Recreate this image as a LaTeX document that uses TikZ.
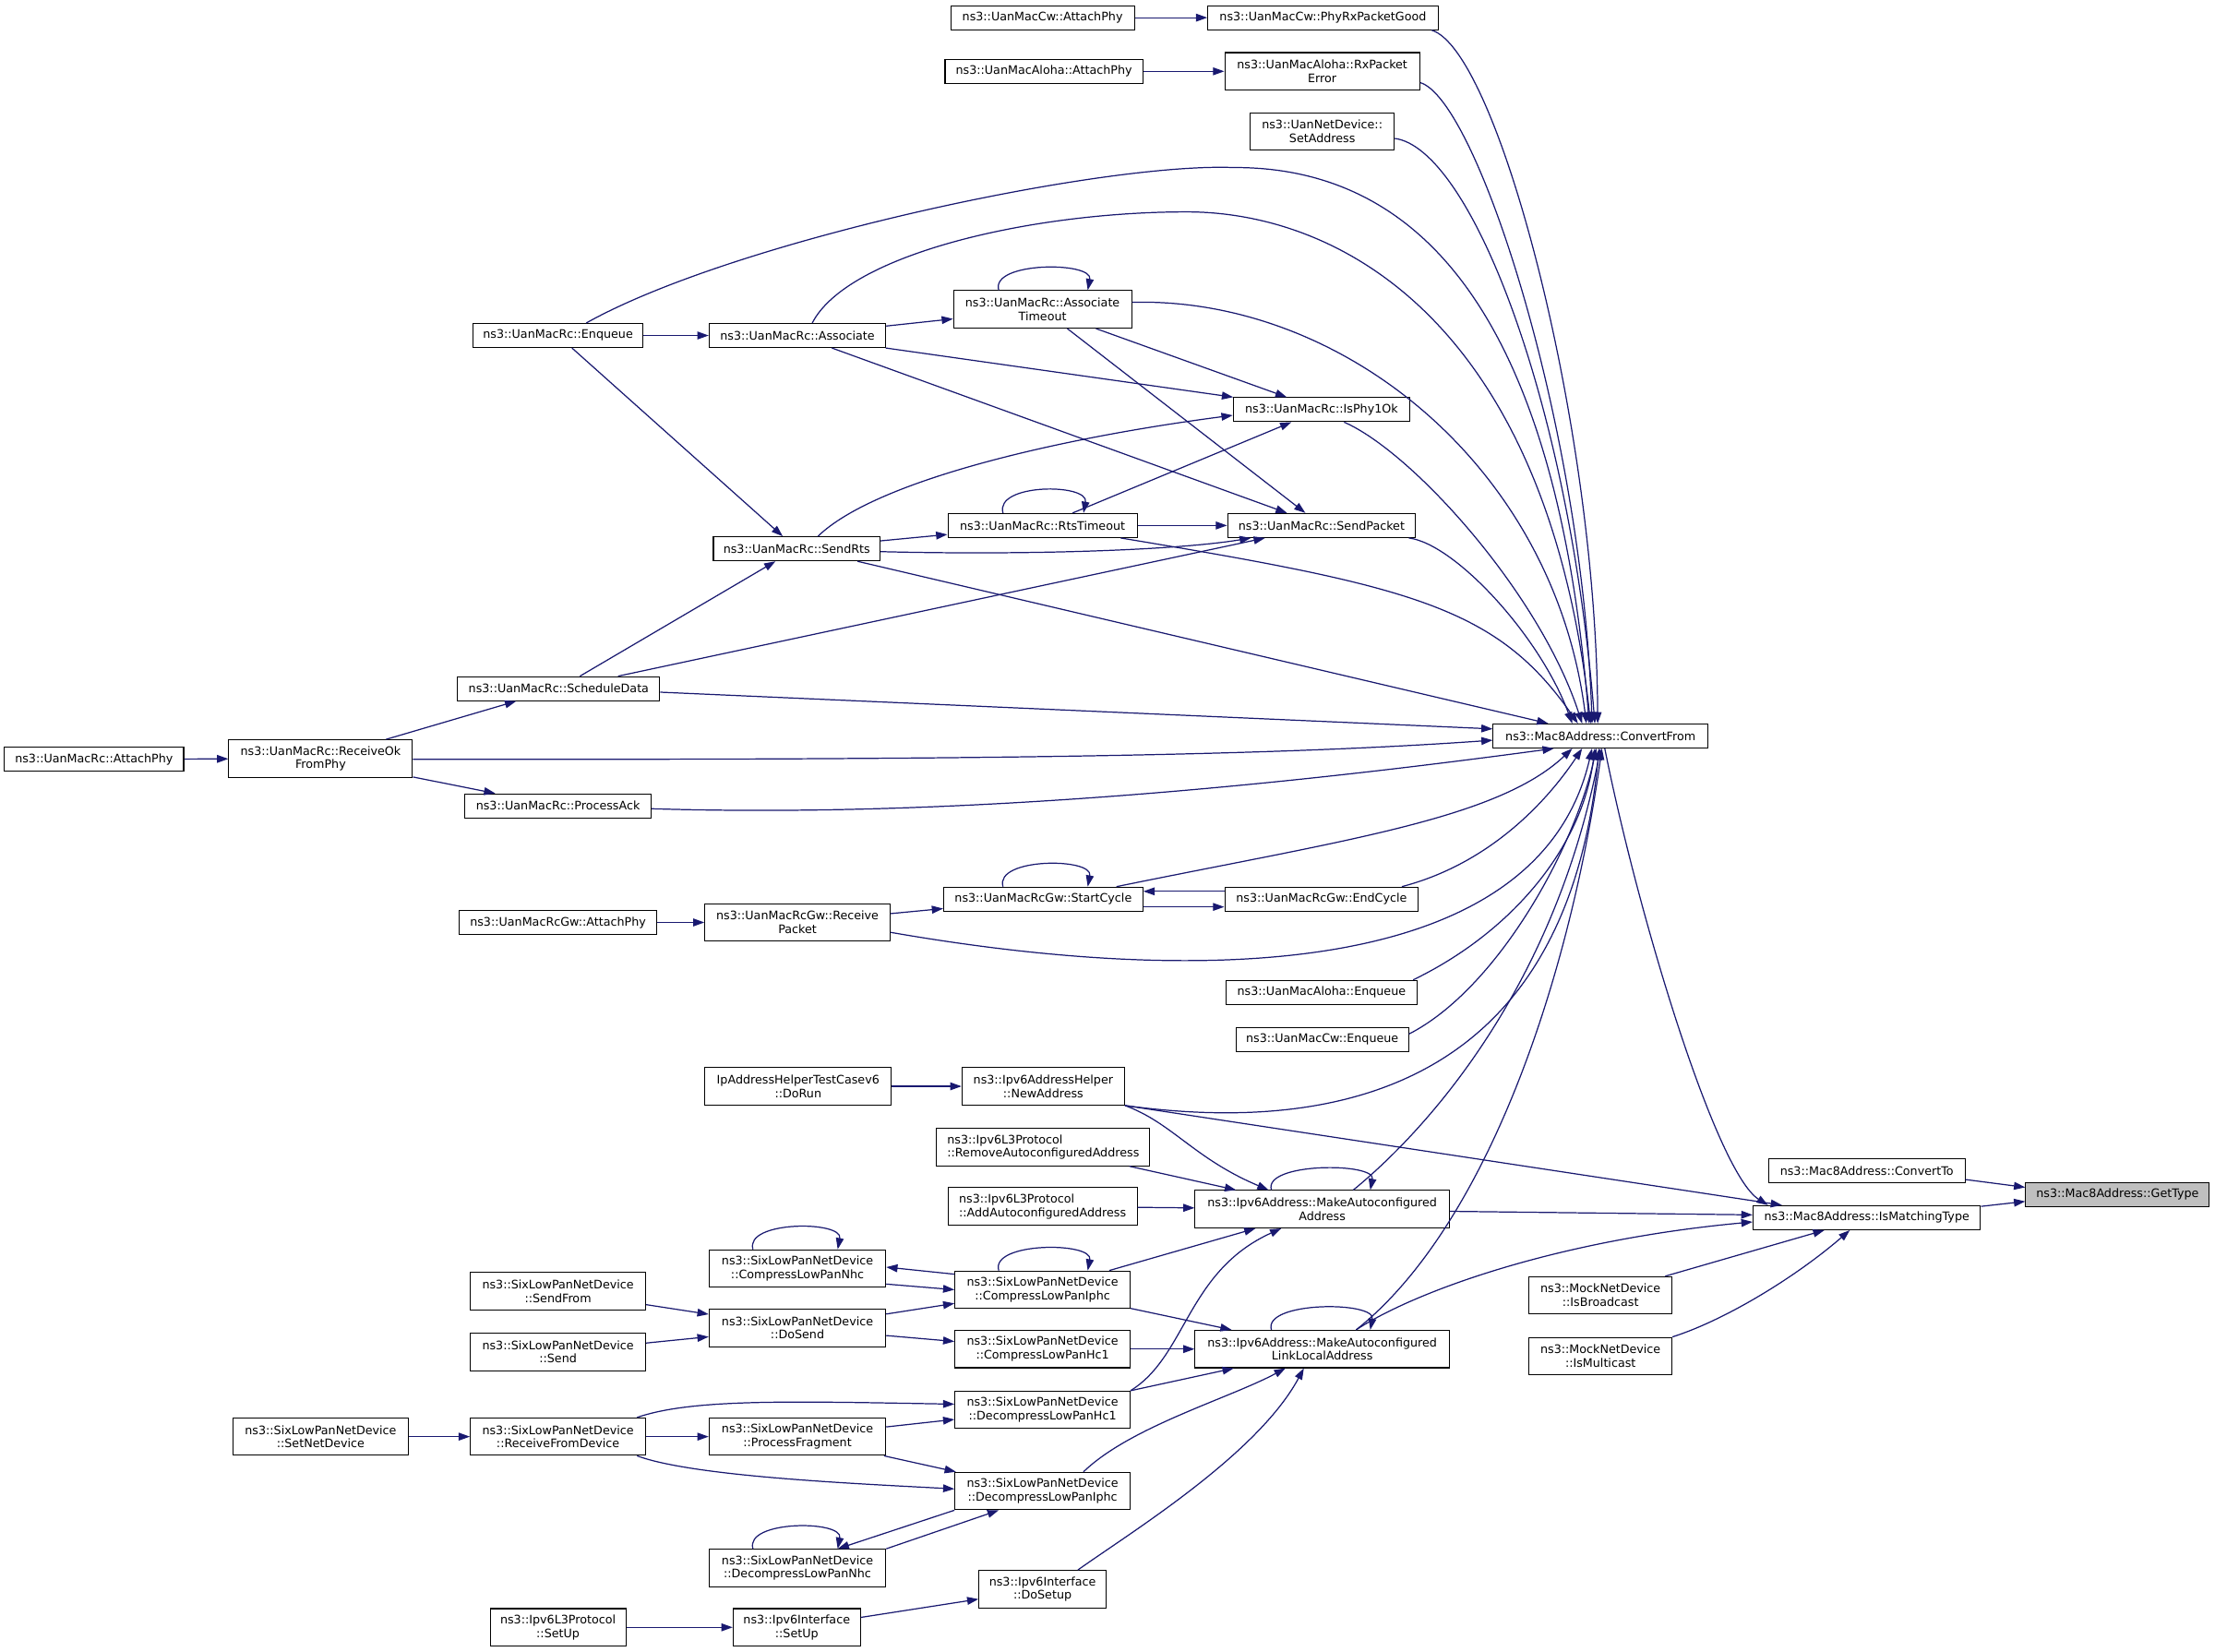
\documentclass[tikz,border=0pt]{standalone}
\usepackage{fontspec}
\setmainfont{DejaVu Sans}
\usetikzlibrary{arrows.meta, calc}

\definecolor{edgeblue}{HTML}{191970}
\definecolor{focusgray}{HTML}{BFBFBF}

\begin{document}
\begin{tikzpicture}[x=1pt, y=-1pt,
    fn/.style={draw=black, fill=white, line width=0.7pt, inner sep=0pt,
      minimum height=17pt, align=center, font=\fontsize{8.3}{9.6}\selectfont},
    fn2/.style={fn, minimum height=26.5pt},
    call/.style={draw=edgeblue, line width=0.8pt, -{Triangle[length=8pt,width=5.5pt]}}]

    % Canvas
    \fill[white] (0,0) rectangle (1568,1169);

    % First column
    \node[fn, minimum width=127] (rcAttach) at (66.5,537.5) {ns3::UanMacRc::AttachPhy};
    \node[fn2, minimum width=130] (recvOk) at (227,537) {ns3::UanMacRc::ReceiveOk\\FromPhy};
    \node[fn2, minimum width=124] (setNet) at (227,1017) {ns3::SixLowPanNetDevice\\::SetNetDevice};

    % Second column
    \node[fn, minimum width=120] (enqueue) at (395,237.5) {ns3::UanMacRc::Enqueue};
    \node[fn, minimum width=143] (schedule) at (395.5,487.5) {ns3::UanMacRc::ScheduleData};
    \node[fn, minimum width=132] (processAck) at (395,570.5) {ns3::UanMacRc::ProcessAck};
    \node[fn, minimum width=140] (gwAttach) at (395,653) {ns3::UanMacRcGw::AttachPhy};
    \node[fn2, minimum width=124] (sendFrom) at (395,914) {ns3::SixLowPanNetDevice\\::SendFrom};
    \node[fn2, minimum width=124] (send) at (395,957) {ns3::SixLowPanNetDevice\\::Send};
    \node[fn2, minimum width=124] (recvFromDev) at (395,1017) {ns3::SixLowPanNetDevice\\::ReceiveFromDevice};
    \node[fn2, minimum width=96] (l3SetUp) at (395,1152) {ns3::Ipv6L3Protocol\\::SetUp};

    % Third column
    \node[fn, minimum width=125] (associate) at (564.5,237.5) {ns3::UanMacRc::Associate};
    \node[fn, minimum width=118] (sendRts) at (564,388.5) {ns3::UanMacRc::SendRts};
    \node[fn2, minimum width=131] (gwRecv) at (564.5,653) {ns3::UanMacRcGw::Receive\\Packet};
    \node[fn2, minimum width=132] (testDoRun) at (565,769) {IpAddressHelperTestCasev6\\::DoRun};
    \node[fn2, minimum width=125] (compNhc) at (564.5,898) {ns3::SixLowPanNetDevice\\::CompressLowPanNhc};
    \node[fn2, minimum width=125] (doSend) at (564.5,940) {ns3::SixLowPanNetDevice\\::DoSend};
    \node[fn2, minimum width=125] (procFrag) at (564.5,1017) {ns3::SixLowPanNetDevice\\::ProcessFragment};
    \node[fn2, minimum width=125] (decompNhc) at (564.5,1110) {ns3::SixLowPanNetDevice\\::DecompressLowPanNhc};
    \node[fn2, minimum width=90] (ifSetUp) at (564,1152) {ns3::Ipv6Interface\\::SetUp};

    % Fourth column
    \node[fn, minimum width=130] (cwAttach) at (738,12.5) {ns3::UanMacCw::AttachPhy};
    \node[fn, minimum width=140] (alohaAttach) at (739,50.5) {ns3::UanMacAloha::AttachPhy};
    \node[fn2, minimum width=126] (assocTimeout) at (738,219) {ns3::UanMacRc::Associate\\Timeout};
    \node[fn, minimum width=134] (rtsTimeout) at (738,372) {ns3::UanMacRc::RtsTimeout};
    \node[fn, minimum width=141] (startCycle) at (738.5,636.5) {ns3::UanMacRcGw::StartCycle};
    \node[fn2, minimum width=115] (newAddr) at (738.5,769) {ns3::Ipv6AddressHelper\\::NewAddress};
    \node[fn2, minimum width=151, align=left] (removeAuto) at (738.5,812) {ns3::Ipv6L3Protocol\\::RemoveAutoconfiguredAddress};
    \node[fn2, minimum width=134, align=left] (addAuto) at (738,854) {ns3::Ipv6L3Protocol\\::AddAutoconfiguredAddress};
    \node[fn2, minimum width=124] (compIphc) at (738,913) {ns3::SixLowPanNetDevice\\::CompressLowPanIphc};
    \node[fn2, minimum width=124] (compHc1) at (738,955) {ns3::SixLowPanNetDevice\\::CompressLowPanHc1};
    \node[fn2, minimum width=124] (decompHc1) at (738,998) {ns3::SixLowPanNetDevice\\::DecompressLowPanHc1};
    \node[fn2, minimum width=124] (decompIphc) at (738,1055.5) {ns3::SixLowPanNetDevice\\::DecompressLowPanIphc};
    \node[fn2, minimum width=90] (doSetup) at (738,1125) {ns3::Ipv6Interface\\::DoSetup};

    % Fifth column
    \node[fn, minimum width=163] (phyRxGood) at (936.5,12.5) {ns3::UanMacCw::PhyRxPacketGood};
    \node[fn2, minimum width=138] (rxErr) at (936,50.5) {ns3::UanMacAloha::RxPacket\\Error};
    \node[fn2, minimum width=102] (setAddr) at (936,93) {ns3::UanNetDevice::\\SetAddress};
    \node[fn, minimum width=125] (isPhy1Ok) at (935.5,290) {ns3::UanMacRc::IsPhy1Ok};
    \node[fn, minimum width=133] (sendPacket) at (935.5,372) {ns3::UanMacRc::SendPacket};
    \node[fn, minimum width=137] (endCycle) at (935.5,636.5) {ns3::UanMacRcGw::EndCycle};
    \node[fn, minimum width=135] (alohaEnq) at (935.5,702.5) {ns3::UanMacAloha::Enqueue};
    \node[fn, minimum width=122] (cwEnq) at (936,736) {ns3::UanMacCw::Enqueue};
    \node[fn2, minimum width=180] (makeAddr) at (936,856) {ns3::Ipv6Address::MakeAutoconfigured\\Address};
    \node[fn2, minimum width=180] (makeLL) at (936,955) {ns3::Ipv6Address::MakeAutoconfigured\\LinkLocalAddress};

    % Right part
    \node[fn, minimum width=152] (convFrom) at (1133,521) {ns3::Mac8Address::ConvertFrom};
    \node[fn2, minimum width=101] (isBroadcast) at (1133,917) {ns3::MockNetDevice\\::IsBroadcast};
    \node[fn2, minimum width=101] (isMulticast) at (1133,960) {ns3::MockNetDevice\\::IsMulticast};
    \node[fn, minimum width=139] (convTo) at (1321.5,829) {ns3::Mac8Address::ConvertTo};
    \node[fn, minimum width=161] (isMatching) at (1321.5,862) {ns3::Mac8Address::IsMatchingType};
    \node[fn, minimum width=130, fill=focusgray] (getType) at (1499,845.5) {ns3::Mac8Address::GetType};

    % Uan calls
    \draw[call] (cwAttach) -- (phyRxGood);
    \draw[call] (alohaAttach) -- (rxErr);
    \draw[call] (rcAttach) -- (recvOk);
    \draw[call] (enqueue) -- (associate);
    \draw[call] (enqueue) -- (sendRts);
    \draw[call] (associate) -- (assocTimeout);
    \draw[call] (associate) -- (isPhy1Ok);
    \draw[call] (associate) -- (sendPacket);
    \draw[call] (assocTimeout) -- (isPhy1Ok);
    \draw[call] (assocTimeout) -- (sendPacket);
    \draw[call] (rtsTimeout) -- (isPhy1Ok);
    \draw[call] (rtsTimeout) -- (sendPacket);
    \draw[call] (sendRts) -- (rtsTimeout);
    \draw[call] ([xshift=15]sendRts.north) .. controls (620,340) and (750,310) .. ([yshift=-4]isPhy1Ok.west);
    \draw[call] ([yshift=-2]sendRts.east) .. controls (720,393) and (830,390) .. ([xshift=-50]sendPacket.south);
    \draw[call] (schedule) -- (sendRts);
    \draw[call] ([xshift=42]schedule.north) -- ([xshift=-40]sendPacket.south);
    \draw[call] (recvOk) -- (schedule);
    \draw[call] (recvOk) -- (processAck);
    \draw[call] (gwAttach) -- (gwRecv);
    \draw[call] (gwRecv) -- (startCycle);
    \draw[call] ([yshift=-5.5]startCycle.east) -- ([yshift=-5.5]endCycle.west);
    \draw[call] ([yshift=5.5]endCycle.west) -- ([yshift=5.5]startCycle.east);

    % Ipv6 calls
    \draw[call] (testDoRun) -- (newAddr);
    \draw[call] (newAddr.south east) .. controls (830,795) and (845,820) .. ([xshift=-38]makeAddr.north);
    \draw[call] (newAddr.south east) -- ([xshift=-60]isMatching.north);
    \draw[call] (removeAuto) -- (makeAddr);
    \draw[call] (addAuto) -- (makeAddr);
    \draw[call] (compIphc) -- (makeAddr);
    \draw[call] (compIphc) -- (makeLL);
    \draw[call] ([yshift=11]compIphc.west) -- ([yshift=1]compNhc.east);
    \draw[call] ([yshift=-11]compNhc.east) -- (compIphc.west);
    \draw[call] (sendFrom) -- (doSend);
    \draw[call] (send) -- (doSend);
    \draw[call] (doSend) -- (compIphc);
    \draw[call] (doSend) -- (compHc1);
    \draw[call] (compHc1) -- (makeLL);
    \draw[call] (decompHc1) -- (makeLL);
    \draw[call] (decompHc1.north east) .. controls (840,960) and (840,900) .. ([xshift=-29]makeAddr.south);
    \draw[call] (setNet) -- (recvFromDev);
    \draw[call] (recvFromDev) -- (procFrag);
    \draw[call] ([xshift=56]recvFromDev.north) .. controls (490,990) and (560,992) .. ([yshift=4]decompHc1.west);
    \draw[call] ([xshift=56]recvFromDev.south) .. controls (490,1045) and (600,1050) .. ([yshift=1.5]decompIphc.west);
    \draw[call] (procFrag) -- (decompHc1);
    \draw[call] (procFrag) -- (decompIphc);
    \draw[call] ([xshift=29]decompIphc.north) .. controls (800,1010) and (870,990) .. ([xshift=-26]makeLL.south);
    \draw[call] (decompIphc.south west) -- ([xshift=28.5]decompNhc.north);
    \draw[call] (decompNhc.north east) -- ([xshift=-31]decompIphc.south);
    \draw[call] (l3SetUp) -- (ifSetUp);
    \draw[call] (ifSetUp) -- (doSetup);
    \draw[call] ([xshift=25]doSetup.north) .. controls (800,1085) and (890,1030) .. ([xshift=-13]makeLL.south);

    % Self calls
    \draw[call] ([xshift=-31]assocTimeout.north) .. controls (701,185) and (774,185) .. ([xshift=32]assocTimeout.north);
    \draw[call] ([xshift=-28]rtsTimeout.north) .. controls (704,342) and (771,342) .. ([xshift=29]rtsTimeout.north);
    \draw[call] ([xshift=-28.5]startCycle.north) .. controls (704,607) and (774,607) .. ([xshift=31.5]startCycle.north);
    \draw[call] ([xshift=-36]makeAddr.north) .. controls (894,822.75) and (974,822.75) .. ([xshift=34]makeAddr.north);
    \draw[call] ([xshift=-36]makeLL.north) .. controls (894,921) and (974,921) .. ([xshift=34]makeLL.north);
    \draw[call] ([xshift=-31]compIphc.north) .. controls (701,879) and (774,879) .. ([xshift=32]compIphc.north);
    \draw[call] ([xshift=-31.5]compNhc.north) .. controls (527,864) and (597,864) .. ([xshift=28.5]compNhc.north);
    \draw[call] ([xshift=-31.5]decompNhc.north) .. controls (527,1076) and (597,1076) .. ([xshift=28.5]decompNhc.north);

    % Into ConvertFrom from above
    \draw[call] ([xshift=-5]phyRxGood.south east) .. controls (1060,35) and (1130,300) .. ([xshift=-2]convFrom.north);
    \draw[call] ([yshift=-8]rxErr.east) .. controls (1045,70) and (1120,300) .. ([xshift=-6]convFrom.north);
    \draw[call] ([yshift=-5]setAddr.east) .. controls (1040,105) and (1110,280) .. ([xshift=-4]convFrom.north);
    \draw[call] ([xshift=20]enqueue.north) .. controls (520,170) and (780,115) .. (873,118.6)
        .. controls (990,118) and (1100,200) .. ([xshift=-8]convFrom.north);
    \draw[call] ([xshift=10.5]associate.north) .. controls (600,180) and (730,150) .. (840,150)
        .. controls (950,150) and (1095,230) .. ([xshift=-7]convFrom.north);
    \draw[call] ([yshift=5]assocTimeout.east) .. controls (950,210) and (1100,330) .. ([xshift=-10]convFrom.north);
    \draw[call] ([xshift=16]isPhy1Ok.south) .. controls (1000,320) and (1090,420) .. ([xshift=-13]convFrom.north);
    \draw[call] ([xshift=-5]sendPacket.south east) .. controls (1030,385) and (1090,450) .. ([xshift=-20]convFrom.north);
    \draw[call] ([xshift=-12]rtsTimeout.south east) .. controls (1000,415) and (1060,430) .. ([xshift=-16]convFrom.north);
    \draw[call] ([xshift=43]sendRts.south) -- ([xshift=-37]convFrom.north);

    % Into ConvertFrom from the side and below
    \draw[call] ([yshift=-2.5]schedule.east) -- ([yshift=5]convFrom.west);
    \draw[call] ([yshift=-0.5]recvOk.east) .. controls (700,538) and (900,535) .. ([yshift=-3]convFrom.west);
    \draw[call] ([yshift=-2]processAck.east) .. controls (700,580) and (950,550) .. ([xshift=-33]convFrom.south);
    \draw[call] ([xshift=-19]startCycle.north east) .. controls (950,595) and (1060,580) .. ([xshift=-20]convFrom.south);
    \draw[call] ([xshift=-12]endCycle.north east) .. controls (1060,610) and (1100,560) .. ([xshift=-13]convFrom.south);
    \draw[call] ([yshift=-7]gwRecv.east) .. controls (860,700) and (1090,690) .. ([xshift=-6]convFrom.south);
    \draw[call] ([xshift=-3]alohaEnq.north east) .. controls (1070,660) and (1120,600) .. ([xshift=-4]convFrom.south);
    \draw[call] ([yshift=4]cwEnq.east) .. controls (1060,700) and (1115,600) .. ([xshift=-3]convFrom.south);
    \draw[call] (newAddr.south east) .. controls (960,805) and (1110,760) .. ([xshift=-1]convFrom.south);
    \draw[call] ([xshift=22]makeAddr.north) .. controls (1010,800) and (1100,700) .. (convFrom.south);
    \draw[call] ([xshift=24]makeLL.north) .. controls (1050,870) and (1110,700) .. ([xshift=1]convFrom.south);

    % Into IsMatchingType and GetType
    \draw[call] ([xshift=3]convFrom.south) .. controls (1160,650) and (1215,830) .. ([xshift=-70]isMatching.north);
    \draw[call] ([yshift=-1.5]makeAddr.east) -- ([yshift=2]isMatching.west);
    \draw[call] ([xshift=24]makeLL.north) .. controls (1000,915) and (1100,878) .. ([yshift=-3]isMatching.west);
    \draw[call] ([xshift=-5]isBroadcast.north east) -- ([xshift=-30]isMatching.south);
    \draw[call] (isMulticast.north east) .. controls (1220,935) and (1270,905) .. ([xshift=-12]isMatching.south);
    \draw[call] ([yshift=-6]convTo.east) -- ([yshift=5]getType.west);
    \draw[call] ([yshift=8]isMatching.east) -- ([yshift=-5]getType.west);
\end{tikzpicture}
\end{document}
